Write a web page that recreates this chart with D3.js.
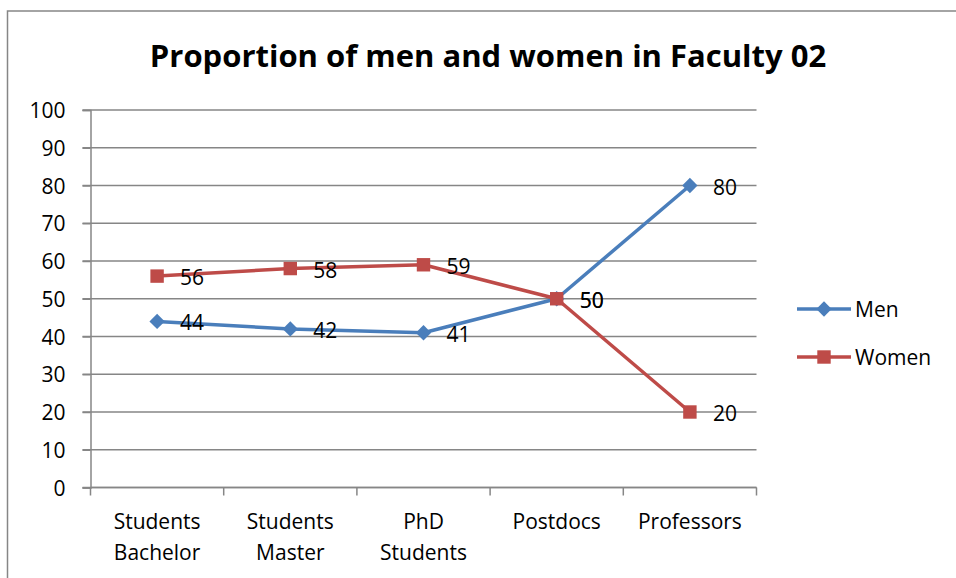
<!DOCTYPE html>
<html>
<head>
  <meta charset="utf-8">
  <title>Proportion of men and women in Faculty 02</title>
  <script src="https://cdn.jsdelivr.net/npm/d3@7"></script>
  <style>
    body { margin: 0; background: #fff; }
    text { font-family: "Open Sans", "Noto Sans", sans-serif; fill: #000; }
  </style>
</head>
<body>
  <script>
    var categories = [['Students', 'Bachelor'], ['Students', 'Master'], ['PhD', 'Students'], ['Postdocs'], ['Professors']];
    var men = [44, 42, 41, 50, 80];
    var women = [56, 58, 59, 50, 20];
    var yTicks = [0, 10, 20, 30, 40, 50, 60, 70, 80, 90, 100];

    var series = [
      { name: 'Men', values: men, color: '#4a7ebb', symbol: d3.symbolDiamond2 },
      { name: 'Women', values: women, color: '#be4b48', symbol: d3.symbolSquare }
    ];

    var width = 956, height = 578;
    var plotLeft = 90.5, plotRight = 756.5, plotTop = 110, plotBottom = 487.5;

    var svg = d3.select('body').append('svg')
      .attr('width', width)
      .attr('height', height);

    // chart frame (runs off the right and bottom edge)
    svg.append('rect')
      .attr('x', 7.5).attr('y', 11)
      .attr('width', 1000).attr('height', 700)
      .attr('fill', 'none')
      .attr('stroke', '#868686')
      .attr('stroke-width', 1.5);

    svg.append('text')
      .attr('x', 488).attr('y', 67)
      .attr('text-anchor', 'middle')
      .style('font-size', '31px')
      .style('font-weight', 'bold')
      .text('Proportion of men and women in Faculty 02');

    var x = d3.scaleBand()
      .domain(d3.range(categories.length))
      .range([plotLeft, plotRight]);

    var y = d3.scaleLinear()
      .domain([0, 100])
      .range([plotBottom, plotTop]);

    // gridlines
    svg.append('g')
      .selectAll('line')
      .data(yTicks)
      .join('line')
      .attr('x1', plotLeft - 8).attr('x2', plotRight)
      .attr('y1', function(d) { return y(d); })
      .attr('y2', function(d) { return y(d); })
      .attr('stroke', '#868686')
      .attr('stroke-width', 1.5);

    // y axis
    var yAxis = svg.append('g')
      .attr('transform', 'translate(' + plotLeft + ',0)')
      .call(d3.axisLeft(y).tickValues(yTicks).tickSize(8).tickPadding(17));
    yAxis.select('.domain').attr('stroke', '#868686').attr('stroke-width', 1.5);
    yAxis.selectAll('.tick line').attr('stroke', '#868686').attr('stroke-width', 1.5);
    yAxis.selectAll('.tick text')
      .attr('dy', '0.36em')
      .style('font-size', '21px')
      .style('font-family', '"Open Sans", sans-serif')
      .attr('fill', '#000');

    // x axis
    var xAxis = svg.append('g')
      .attr('transform', 'translate(0,' + plotBottom + ')');
    xAxis.append('line')
      .attr('x1', plotLeft).attr('x2', plotRight)
      .attr('stroke', '#868686').attr('stroke-width', 1.5);
    xAxis.selectAll('.xtick')
      .data(d3.range(categories.length + 1))
      .join('line')
      .attr('class', 'xtick')
      .attr('x1', function(i) { return i < categories.length ? x(i) : x(i - 1) + x.bandwidth(); })
      .attr('x2', function(i) { return i < categories.length ? x(i) : x(i - 1) + x.bandwidth(); })
      .attr('y1', 0).attr('y2', 8)
      .attr('stroke', '#868686').attr('stroke-width', 1.5);

    xAxis.selectAll('.xlabel')
      .data(categories)
      .join('text')
      .attr('class', 'xlabel')
      .attr('text-anchor', 'middle')
      .style('font-size', '21px')
      .each(function(lines, i) {
        var t = d3.select(this);
        lines.forEach(function(s, k) {
          t.append('tspan')
            .attr('x', x(i) + x.bandwidth() / 2)
            .attr('y', 41 + k * 31)
            .text(s);
        });
      });

    var line = d3.line()
      .x(function(d, i) { return x(i) + x.bandwidth() / 2; })
      .y(function(d) { return y(d); });

    series.forEach(function(s) {
      svg.append('path')
        .datum(s.values)
        .attr('d', line)
        .attr('fill', 'none')
        .attr('stroke', s.color)
        .attr('stroke-width', 3.5)
        .attr('stroke-linejoin', 'round');

      svg.append('g')
        .selectAll('path')
        .data(s.values)
        .join('path')
        .attr('transform', function(d, i) {
          return 'translate(' + (x(i) + x.bandwidth() / 2) + ',' + y(d) + ')';
        })
        .attr('d', d3.symbol().type(s.symbol).size(s.name === 'Men' ? 150 : 180))
        .attr('fill', s.color);
    });

    // data labels
    series.forEach(function(s) {
      svg.append('g')
        .selectAll('text')
        .data(s.values)
        .join('text')
        .attr('x', function(d, i) { return x(i) + x.bandwidth() / 2 + 23; })
        .attr('y', function(d) { return y(d) + 9; })
        .style('font-size', '21px')
        .text(function(d) { return d; });
    });

    // legend
    var legend = svg.append('g')
      .selectAll('g')
      .data(series)
      .join('g')
      .attr('transform', function(d, i) { return 'translate(797,' + (309 + i * 48) + ')'; });
    legend.append('line')
      .attr('x1', 0).attr('x2', 54)
      .attr('stroke', function(d) { return d.color; })
      .attr('stroke-width', 3.5);
    legend.append('path')
      .attr('transform', 'translate(27,0)')
      .attr('d', function(d) { return d3.symbol().type(d.symbol).size(d.name === 'Men' ? 150 : 180)(); })
      .attr('fill', function(d) { return d.color; });
    legend.append('text')
      .attr('x', 58).attr('y', 8)
      .style('font-size', '21px')
      .text(function(d) { return d.name; });
  </script>
</body>
</html>
